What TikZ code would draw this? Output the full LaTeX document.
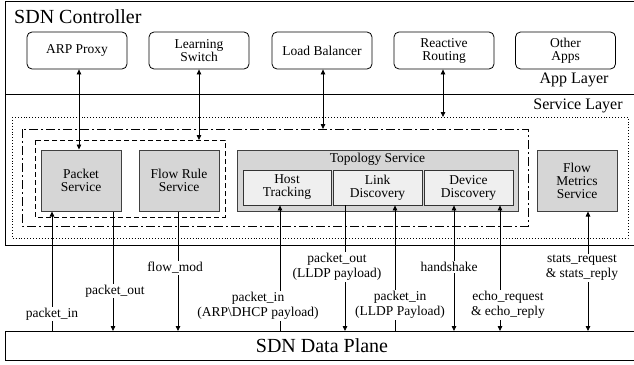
\documentclass[tikz,border=0pt]{standalone}
\usepackage{fontspec}
\setmainfont{Liberation Serif}
\usetikzlibrary{arrows.meta}
\definecolor{boxgray}{HTML}{D6D6D6}
\definecolor{innergray}{HTML}{EFEFEF}
\tikzset{
  appbox/.style={draw, line width=0.8pt, rounded corners=5pt, minimum width=100pt, minimum height=37pt, inner sep=0pt, align=center, font=\fontsize{13.5}{13}\selectfont},
  svcbox/.style={draw=black!75, line width=1pt, fill=boxgray, minimum width=80pt, minimum height=61pt, inner sep=0pt, align=center, font=\fontsize{13.5}{13}\selectfont},
  subbox/.style={draw=black!80, line width=0.8pt, fill=innergray, minimum height=35pt, inner sep=0pt, align=center, font=\fontsize{13.5}{13}\selectfont},
  lbl/.style={fill=white, inner sep=1pt, align=center, font=\fontsize{13.5}{15}\selectfont},
  conn/.style={line width=0.8pt},
  tip/.style={-{Triangle[length=5pt,width=4.5pt]}},
  tips/.style={{Triangle[length=5pt,width=4.5pt]}-{Triangle[length=5pt,width=4.5pt]}},
}
\begin{document}
\begin{tikzpicture}[x=1pt,y=-1pt]
\useasboundingbox (0,0) rectangle (634,364);
\clip (0,0) rectangle (634,364);
% controller frame
\draw[line width=1pt] (5,1.5) rectangle (640,245);
\draw[line width=0.8pt] (5,94) -- (640,94);
\node[anchor=west, font=\fontsize{20}{20}\selectfont, inner sep=0pt] (ctrl) at (14,17) {SDN Controller};
\node[font=\fontsize{16}{16}\selectfont, inner sep=0pt] (applayer) at (574,80) {App Layer};
\node[font=\fontsize{16}{16}\selectfont, inner sep=0pt] (svclayer) at (578,106) {Service Layer};
% data plane
\draw[line width=1pt] (5,331) rectangle (640,360.5);
\node[font=\fontsize{20}{20}\selectfont, inner sep=0pt] (dp) at (322,345.5) {SDN Data Plane};
% apps
\node[appbox] (arp) at (77,50.5) {ARP Proxy};
\node[appbox] (ls) at (199,50.5) {Learning\\Switch};
\node[appbox] (lb) at (322,50.5) {Load Balancer};
\node[appbox] (rr) at (444,50.5) {Reactive\\Routing};
\node[appbox] (oa) at (565.5,50.5) {Other\\Apps};
% grouping boxes
\draw[line width=0.9pt, dotted] (12,117) rectangle (628,238);
\draw[line width=0.9pt, dash pattern=on 9pt off 3pt on 2pt off 3pt] (22,129) rectangle (528,226);
\draw[line width=0.9pt, dash pattern=on 5pt off 3pt] (35,140) rectangle (225,217);
\coordinate (dotted) at (443,117);
\coordinate (dashdot) at (323,129);
\coordinate (dashed) at (199,140);
% services
\node[svcbox] (ps) at (81,180.5) {Packet\\Service};
\node[svcbox] (fr) at (179,180.5) {Flow Rule\\Service};
\node[svcbox, minimum width=281pt] (topo) at (377.5,180.5) {};
\node[inner sep=0pt, font=\fontsize{13.5}{13}\selectfont] (topot) at (377.5,159) {Topology Service};
\node[subbox, minimum width=88pt] (ht) at (287,187.5) {Host\\Tracking};
\node[subbox, minimum width=89pt] (ld) at (377.5,187.5) {Link\\Discovery};
\node[subbox, minimum width=89pt] (dd) at (468.5,187.5) {Device\\Discovery};
\node[svcbox] (fm) at (577,180.5) {Flow\\Metrics\\Service};
% app <-> service arrows
\draw[conn, tips] (arp.south -| 79,0) -- (ps.north -| 79,0);
\draw[conn, tips] (ls.south) -- (dashed);
\draw[conn, tips] (lb.south -| dashdot) -- (dashdot);
\draw[conn, tips] (rr.south -| dotted) -- (dotted);
% data plane coordinates
\coordinate (d1) at (52,331);
\coordinate (d2) at (113,331);
\coordinate (d3) at (178,331);
\coordinate (d4) at (280,331);
\coordinate (d5) at (345,331);
\coordinate (d6) at (395,331);
\coordinate (d7) at (454,331);
\coordinate (d8) at (500,331);
\coordinate (d9) at (588,331);
\draw[conn, tip] (d1) -- (d1 |- ps.south);
\draw[conn, tip] (d2 |- ps.south) -- (d2);
\draw[conn, tip] (d3 |- fr.south) -- (d3);
\draw[conn, tip] (d4) -- (d4 |- ht.south);
\draw[conn, tip] (d5 |- ld.south) -- (d5);
\draw[conn, tip] (d6) -- (d6 |- ld.south);
\draw[conn, tips] (d7) -- (d7 |- dd.south);
\draw[conn, tips] (d8) -- (d8 |- dd.south);
\draw[conn, tips] (d9) -- (d9 |- fm.south);
% labels
\node[lbl] (l1) at (52,314) {packet\_in};
\node[lbl] (l2) at (115,291) {packet\_out};
\node[lbl] (l3) at (175,268) {flow\_mod};
\node[lbl] (l4) at (258,306) {packet\_in\\(ARP\textbackslash DHCP payload)};
\node[lbl] (l5) at (337,267) {packet\_out\\(LLDP payload)};
\node[lbl] (l6) at (400,305) {packet\_in\\(LLDP Payload)};
\node[lbl] (l7) at (449,267) {handshake};
\node[lbl] (l8) at (508,305) {echo\_request\\\& echo\_reply};
\node[lbl] (l9) at (582,268) {stats\_request\\\& stats\_reply};
\end{tikzpicture}
\end{document}
